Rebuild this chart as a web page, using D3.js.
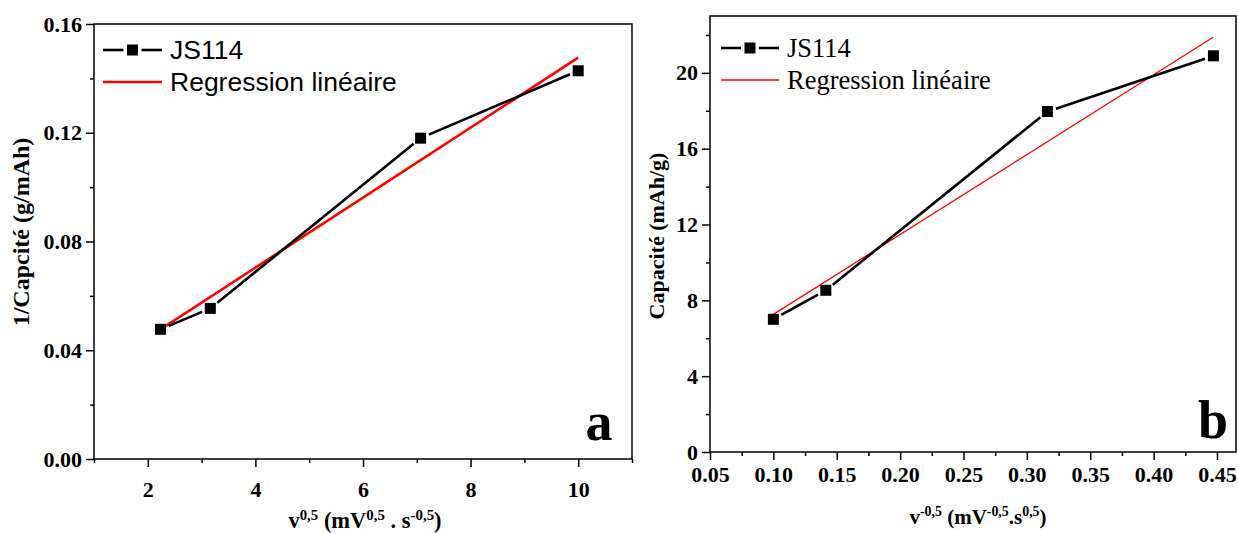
<!DOCTYPE html>
<html><head><meta charset="utf-8">
<script src="https://cdn.jsdelivr.net/npm/d3@7/dist/d3.min.js"></script>
<style>
body{margin:0;background:#fff;}
svg{display:block;}
.tk text{font-family:"Liberation Serif","Times New Roman",serif;font-weight:bold;font-size:22px;fill:#000;}
.tk path,.tk line{stroke:#000;stroke-width:1.5px;}
</style></head>
<body><svg id="c" width="1238" height="533"></svg>
<script>
// Panel a data
const aX = [2.236, 3.162, 7.071, 10];
const aY = [0.0477, 0.0554, 0.1180, 0.1428];
const aRegX = [2.236, 10];
const aRegY = [0.0477, 0.1476];
const aXTicks = [2, 4, 6, 8, 10];
const aXMinor = [1, 3, 5, 7, 9, 11];
const aYTicks = [0, 0.04, 0.08, 0.12, 0.16];
const aYMinor = [0.02, 0.06, 0.10, 0.14];
// Panel b data
const bX = [0.1, 0.1414, 0.3162, 0.4472];
const bY = [7.0, 8.53, 17.96, 20.9];
const bRegX = [0.1, 0.447];
const bRegY = [7.26, 21.88];
const bXTicks = [0.05, 0.10, 0.15, 0.20, 0.25, 0.30, 0.35, 0.40, 0.45];
const bXMinor = [0.075, 0.125, 0.175, 0.225, 0.275, 0.325, 0.375, 0.425];
const bYTicks = [0, 4, 8, 12, 16, 20];
const bYMinor = [2, 6, 10, 14, 18, 22];
const seriesName = "JS114";
const regName = "Regression linéaire";

const svg = d3.select("#c");
const serif = '"Liberation Serif","Times New Roman",serif';
const sans = '"Liberation Sans",Arial,sans-serif';

function panel(o){
  const x = d3.scaleLinear().domain(o.xd).range(o.xr);
  const y = d3.scaleLinear().domain(o.yd).range(o.yr);
  const g = svg.append("g");
  g.append("rect").attr("x", o.xr[0]).attr("y", o.yr[1])
    .attr("width", o.xr[1]-o.xr[0]).attr("height", o.yr[0]-o.yr[1])
    .attr("fill","none").attr("stroke","#000").attr("stroke-width",1.5);
  const xa = g.append("g").attr("class","tk").attr("transform",`translate(0,${o.yr[0]})`)
    .call(d3.axisBottom(x).tickValues(o.xt).tickFormat(o.xf).tickSize(8).tickSizeOuter(0).tickPadding(o.xpad));
  xa.select(".domain").remove();
  const xm = g.append("g").attr("class","tk").attr("transform",`translate(0,${o.yr[0]})`)
    .call(d3.axisBottom(x).tickValues(o.xm).tickFormat("").tickSize(4).tickSizeOuter(0));
  xm.select(".domain").remove();
  const ya = g.append("g").attr("class","tk").attr("transform",`translate(${o.xr[0]},0)`)
    .call(d3.axisLeft(y).tickValues(o.yt).tickFormat(o.yf).tickSize(8).tickSizeOuter(0).tickPadding(4));
  ya.select(".domain").remove();
  const ym = g.append("g").attr("class","tk").attr("transform",`translate(${o.xr[0]},0)`)
    .call(d3.axisLeft(y).tickValues(o.ym).tickFormat("").tickSize(4).tickSizeOuter(0));
  ym.select(".domain").remove();

  g.append("path").datum(o.rx.map((v,i)=>[v,o.ry[i]]))
    .attr("d", d3.line().x(d=>x(d[0])).y(d=>y(d[1])))
    .attr("stroke","#ff0000").attr("stroke-width",o.regW).attr("fill","none");
  const pts = o.dx.map((v,i)=>[x(v), y(o.dy[i])]);
  const gap = 9;
  for(let i=0;i<pts.length-1;i++){
    const [x1,y1]=pts[i],[x2,y2]=pts[i+1];
    const L=Math.hypot(x2-x1,y2-y1), ux=(x2-x1)/L, uy=(y2-y1)/L;
    g.append("line").attr("x1",x1+ux*gap).attr("y1",y1+uy*gap)
      .attr("x2",x2-ux*gap).attr("y2",y2-uy*gap)
      .attr("stroke","#000").attr("stroke-width",2.6);
  }
  g.selectAll("rect.m").data(o.dx).enter().append("rect").attr("class","m")
    .attr("x",(d)=>x(d)-5.5).attr("y",(d,i)=>y(o.dy[i])-5.5)
    .attr("width",11).attr("height",11).attr("fill","#000");

  const lg = g.append("g");
  const mx = o.lx+o.lw/2;
  lg.append("line").attr("x1",o.lx).attr("x2",mx-9).attr("y1",o.ly1).attr("y2",o.ly1)
    .attr("stroke","#000").attr("stroke-width",2.6);
  lg.append("line").attr("x1",mx+9).attr("x2",o.lx+o.lw).attr("y1",o.ly1).attr("y2",o.ly1)
    .attr("stroke","#000").attr("stroke-width",2.6);
  lg.append("rect").attr("x",mx-5.5).attr("y",o.ly1-5.5).attr("width",11).attr("height",11).attr("fill","#000");
  lg.append("line").attr("x1",o.lx).attr("x2",o.lx+o.lw).attr("y1",o.ly2).attr("y2",o.ly2)
    .attr("stroke","#ff0000").attr("stroke-width",o.regW);
  lg.append("text").attr("x",o.tx).attr("y",o.ly1).attr("dy","0.35em").text(seriesName)
    .attr("font-family",o.lfont).attr("font-size",o.lsize).attr("fill","#000");
  lg.append("text").attr("x",o.tx).attr("y",o.ly2).attr("dy","0.35em").text(regName)
    .attr("font-family",o.lfont).attr("font-size",o.lsize).attr("fill","#000");

  g.append("text").attr("x",o.letterX).attr("y",o.letterY).attr("text-anchor","middle")
    .attr("font-family",serif).attr("font-weight","bold").attr("font-size",54).text(o.letter);

  g.append("text").attr("transform",`translate(${o.ytx},${o.yty}) rotate(-90)`)
    .attr("text-anchor","middle").attr("font-family",serif).attr("font-weight","bold")
    .attr("font-size",o.ytsize).text(o.ytitle);
  const xt = g.append("text").attr("x",o.xtx).attr("y",o.xty).attr("text-anchor","middle")
    .attr("font-family",serif).attr("font-weight","bold").attr("font-size",o.xtsize);
  o.xtitle.forEach(p=>{
    const t = xt.append("tspan").text(p[0]);
    if(p[1]) t.attr("font-size",o.xtsize*0.66).attr("dy",-8);
    else if(p[2]) t.attr("dy",8);
  });
}

panel({
  xd:[1,11], xr:[94,632], yd:[0,0.16], yr:[459,24],
  xt:aXTicks, xm:aXMinor, yt:aYTicks, ym:aYMinor,
  xf:d3.format("d"), yf:d3.format(".2f"), xpad:14,
  dx:aX, dy:aY, rx:aRegX, ry:aRegY, regW:2.6,
  lx:103, lw:59, ly1:50, ly2:82, tx:170, lfont:sans, lsize:26.5,
  letter:"a", letterX:599, letterY:440,
  ytitle:"1/Capcité (g/mAh)", ytx:29, yty:232, ytsize:24,
  xtitle:[["v"],["0,5",true],[" (mV",false,true],["0,5",true],[" . s",false,true],["-0,5",true],[")",false,true]],
  xtx:365, xty:528, xtsize:22.5
});
panel({
  xd:[0.05,0.465], xr:[710,1236], yd:[0,23], yr:[452,16],
  xt:bXTicks, xm:bXMinor, yt:bYTicks, ym:bYMinor,
  xf:d3.format(".2f"), yf:d3.format("d"), xpad:6,
  dx:bX, dy:bY, rx:bRegX, ry:bRegY, regW:1.3,
  lx:721, lw:58, ly1:48, ly2:80, tx:787, lfont:serif, lsize:26.5,
  letter:"b", letterX:1213, letterY:438,
  ytitle:"Capacité (mAh/g)", ytx:664, yty:236, ytsize:22,
  xtitle:[["v"],["-0,5",true],[" (mV",false,true],["-0,5",true],[".s",false,true],["0,5",true],[")",false,true]],
  xtx:978, xty:524, xtsize:21
});
</script></body></html>
